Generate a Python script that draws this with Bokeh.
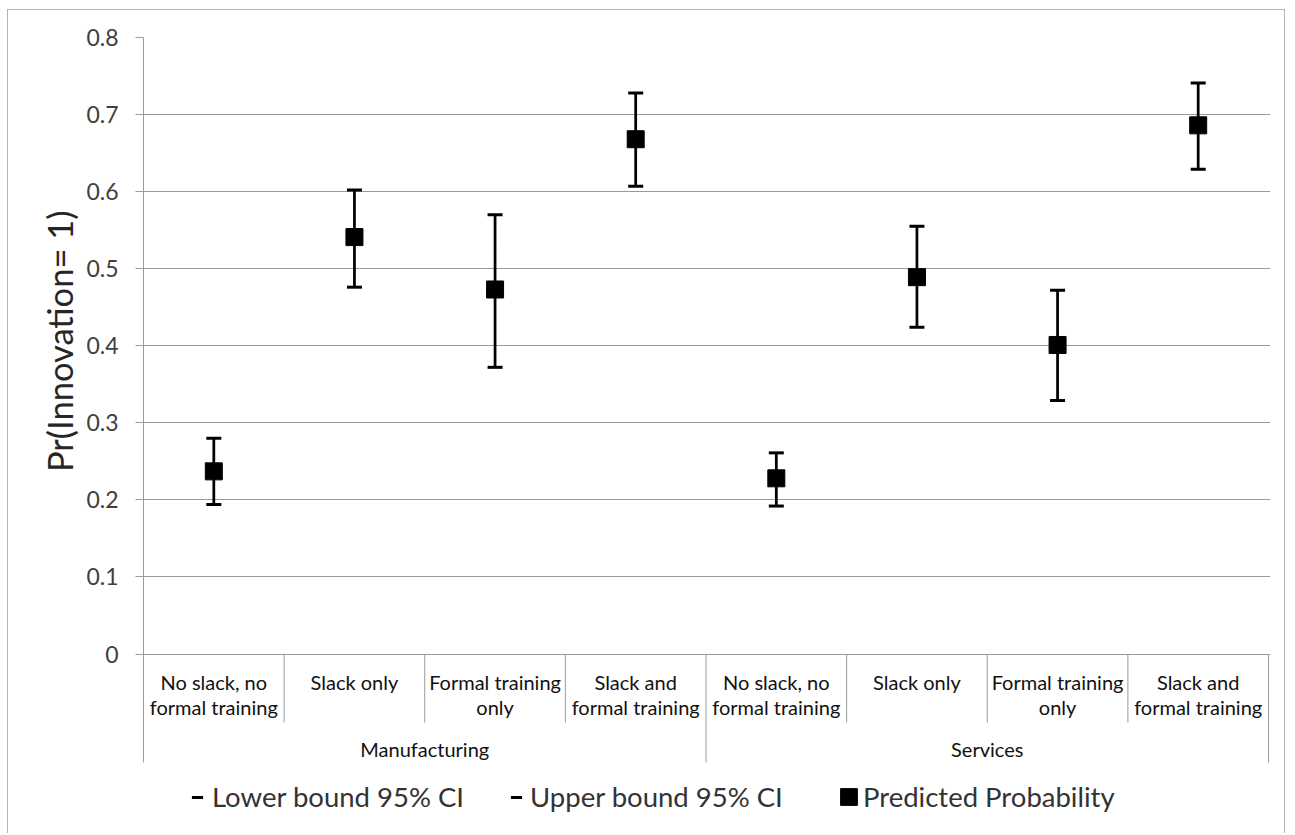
from bokeh.plotting import figure
from bokeh.models import Range1d, FixedTicker, Legend, LegendItem, ColumnDataSource, Title
from bokeh.core.properties import value
from bokeh.embed import file_html
from bokeh.resources import INLINE

# ---------------- data ----------------
groups = ["Manufacturing", "Services"]
categories = ["No slack, no\nformal training", "Slack only",
              "Formal training\nonly", "Slack and\nformal training"]
predicted = [0.237, 0.541, 0.473, 0.668, 0.228, 0.489, 0.401, 0.686]
lower_ci = [0.194, 0.476, 0.372, 0.607, 0.192, 0.424, 0.329, 0.629]
upper_ci = [0.280, 0.602, 0.570, 0.728, 0.261, 0.555, 0.472, 0.741]
y_ticks = [0, 0.1, 0.2, 0.3, 0.4, 0.5, 0.6, 0.7, 0.8]
y_tick_labels = ["0", "0.1", "0.2", "0.3", "0.4", "0.5", "0.6", "0.7", "0.8"]
y_title = "Pr(Innovation= 1)"
legend_labels = ["Lower bound 95% CI", "Upper bound 95% CI", "Predicted Probability"]

# ---------------- layout helpers ----------------
FONT = "Lato"
OFF_X, OFF_Y = 8, 10          # canvas origin on the page
W, H = 1278, 824              # canvas size inside the border
FRAME_L, FRAME_R = 143, 1270  # page px
TOP_PX, ZERO_PX = 37, 653.5
BOT_PX = OFF_Y + H
y_max = y_ticks[-1]
unit = (ZERO_PX - TOP_PX) / y_max
n_cat = len(groups) * len(categories)
cat_px = (1268 - FRAME_L) / n_cat


def yv(page_y):
    return (ZERO_PX - page_y) / unit


GRID = "#9a9a9a"

p = figure(width=W, height=H,
           x_range=Range1d(0, (FRAME_R - FRAME_L) / cat_px),
           y_range=Range1d(yv(BOT_PX), y_max),
           x_axis_location=None, toolbar_location=None, output_backend="svg",
           min_border_left=FRAME_L - OFF_X, min_border_right=W - (FRAME_R - OFF_X),
           min_border_top=TOP_PX - OFF_Y, min_border_bottom=0)
p.outline_line_color = None
p.background_fill_color = "white"
p.border_fill_color = "white"
p.styles = {"margin-left": "7px", "margin-top": "9px",
            "border-left": "1px solid #b4b4b4", "border-top": "1px solid #b4b4b4",
            "border-right": "1px solid #b4b4b4"}

p.xgrid.visible = False
p.ygrid.ticker = FixedTicker(ticks=y_ticks)
p.ygrid.grid_line_color = GRID
p.ygrid.grid_line_width = 1

ax = p.yaxis[0]
ax.ticker = FixedTicker(ticks=y_ticks)
ax.major_label_overrides = {t: l for t, l in zip(y_ticks, y_tick_labels)}
ax.bounds = (yv(762), y_max)
ax.axis_line_color = GRID
ax.major_tick_line_color = GRID
ax.major_tick_out = 8
ax.major_tick_in = 0
ax.minor_tick_line_color = None
ax.major_label_standoff = 17
ax.major_label_text_font = FONT
ax.major_label_text_font_size = "23px"
ax.major_label_text_color = "#404040"

# y-axis title, centred on the 0..0.8 value band like the original
ytitle = Title(text=y_title, align="right", offset=173, standoff=8,
               text_font=FONT, text_font_size="34.5px", text_font_style="normal",
               text_color="#262626")
p.add_layout(ytitle, "left")

# category axis dividers
n_per = len(categories)
inner_x = [g * n_per + c for g in range(len(groups)) for c in range(1, n_per)]
p.segment(x0=inner_x, y0=[0] * len(inner_x), x1=inner_x, y1=[yv(722)] * len(inner_x),
          line_color=GRID, line_width=1)
group_x = [(g + 1) * n_per for g in range(len(groups))]
p.segment(x0=group_x, y0=[0] * len(group_x), x1=group_x, y1=[yv(762)] * len(group_x),
          line_color=GRID, line_width=1)

# category labels
xs = [i + 0.5 for i in range(n_cat)]
l1x, l1t, l2x, l2t = [], [], [], []
for i in range(n_cat):
    parts = categories[i % n_per].split("\n")
    l1x.append(xs[i]); l1t.append(parts[0])
    if len(parts) > 1:
        l2x.append(xs[i]); l2t.append(parts[1])
CAT_FS = "20px"
p.text(x=l1x, y=[yv(681)] * len(l1x), text=l1t, text_align="center", text_baseline="middle",
       text_font=value(FONT), text_font_size=CAT_FS, text_color="#111111")
p.text(x=l2x, y=[yv(706)] * len(l2x), text=l2t, text_align="center", text_baseline="middle",
       text_font=value(FONT), text_font_size=CAT_FS, text_color="#111111")
gx = [g * n_per + n_per / 2 for g in range(len(groups))]
p.text(x=gx, y=[yv(748)] * len(gx), text=groups, text_align="center", text_baseline="middle",
       text_font=value(FONT), text_font_size=CAT_FS, text_color="#111111")

# data marks
src = ColumnDataSource(dict(x=xs, pred=predicted, lo=lower_ci, hi=upper_ci))
p.segment(x0="x", y0="lo", x1="x", y1="hi", source=src, line_color="black", line_width=2.75)
r_lo = p.scatter("x", "lo", source=src, marker="dash", size=15, line_width=3, line_color="black")
r_hi = p.scatter("x", "hi", source=src, marker="dash", size=15, line_width=3, line_color="black")
r_pr = p.rect("x", "pred", width=17, height=17, width_units="screen", height_units="screen",
              source=src, fill_color="black", line_color="black")


def make_legend(label, rend, left_px, bottom_px, gw, gh, standoff):
    lg = Legend(items=[LegendItem(label=label, renderers=[rend])],
                location=(left_px - FRAME_L, BOT_PX - bottom_px),
                orientation="horizontal", padding=0, margin=0, spacing=0,
                glyph_width=gw, glyph_height=gh, label_height=gh, label_standoff=standoff,
                label_text_font=FONT, label_text_font_size="27.5px",
                label_text_color="#333333", background_fill_alpha=0,
                border_line_color=None)
    p.add_layout(lg)


make_legend(legend_labels[0], r_lo, 183, 813, 28, 32, 1)
make_legend(legend_labels[1], r_hi, 502, 813, 28, 32, 0)
make_legend(legend_labels[2], r_pr, 838, 813, 21, 21, 4)

open("out.html", "w").write(file_html(p, INLINE))
